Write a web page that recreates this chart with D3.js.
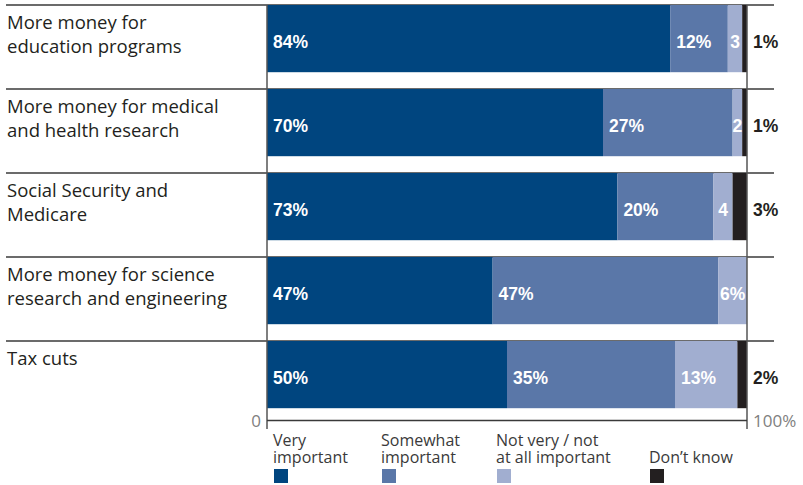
<!DOCTYPE html>
<html><head><meta charset="utf-8">
<script src="https://cdn.jsdelivr.net/npm/d3@7"></script>
<style>body{margin:0;background:#fff}svg{display:block}</style>
</head><body><svg id="c" width="803" height="485"></svg>
<script>
const categories = [
  ["More money for", "education programs"],
  ["More money for medical", "and health research"],
  ["Social Security and", "Medicare"],
  ["More money for science", "research and engineering"],
  ["Tax cuts"]
];
const seriesNames = ["Very\nimportant", "Somewhat\nimportant", "Not very / not\nat all important", "Don’t know"];
const colors = ["#00457f", "#5a77a8", "#a1aed0", "#231f20"];
const veryImportant = [84, 70, 73, 47, 50];
const somewhatImportant = [12, 27, 20, 47, 35];
const notImportant = [3, 2, 4, 6, 13];
const dontKnow = [1, 1, 3, 0, 2];
const insideLabels = [
  ["84%", "12%", "3"],
  ["70%", "27%", "2"],
  ["73%", "20%", "4"],
  ["47%", "47%", "6%"],
  ["50%", "35%", "13%"]
];
const outsideLabels = ["1%", "1%", "3%", "", "2%"];
const axisTicks = ["0", "100%"];

const svg = d3.select("#c");
const keys = categories.map((c, i) => i);
const x = d3.scaleLinear().domain([0, 100]).range([267, 747]);
const y = d3.scaleBand().domain(keys).range([5, 425]).paddingInner(0).paddingOuter(0);
const bh = y.step() * 0.8;
const series = [veryImportant, somewhatImportant, notImportant, dontKnow];
const rows = keys.map(i => {
  let acc = 0;
  return series.map((s, k) => {
    const seg = {row: i, k, x0: acc, x1: acc + s[i], label: k < 3 ? insideLabels[i][k] : ""};
    acc += s[i];
    return seg;
  });
});
const segs = rows.flat();

// separators
svg.append("g").selectAll("line").data(keys).join("line")
  .attr("x1", 6).attr("x2", 774)
  .attr("y1", d => y(d)).attr("y2", d => y(d))
  .attr("stroke", "#3a3a3a").attr("stroke-width", 1.5);

// bars
svg.append("g").selectAll("rect").data(segs.filter(d => d.x1 > d.x0)).join("rect")
  .attr("x", d => x(d.x0)).attr("width", d => x(d.x1) - x(d.x0))
  .attr("y", d => y(d.row)).attr("height", bh)
  .attr("fill", d => colors[d.k]);

// vertical lines
svg.append("g").selectAll("line").data([0, 100]).join("line")
  .attr("x1", d => x(d)).attr("x2", d => x(d))
  .attr("y1", 5).attr("y2", 429)
  .attr("stroke", "#555").attr("stroke-width", 1.5);
svg.append("line").attr("x1", x(0)).attr("x2", x(100)).attr("y1", 420.5).attr("y2", 420.5)
  .attr("stroke", "#3a3a3a").attr("stroke-width", 1.5);

// axis tick labels
svg.append("text").attr("x", x(0) - 6).attr("y", 427).attr("text-anchor", "end")
  .attr("font-family", "Open Sans").attr("font-size", 17).attr("fill", "#808080").text(axisTicks[0]);
svg.append("text").attr("x", x(100) + 6).attr("y", 427).attr("text-anchor", "start")
  .attr("font-family", "Open Sans").attr("font-size", 17).attr("fill", "#808080").text(axisTicks[1]);

// inside labels
svg.append("g").selectAll("text").data(segs.filter(d => d.label)).join("text")
  .attr("x", d => (x(d.x1) - x(d.x0)) < 30 ? (x(d.x0) + x(d.x1)) / 2 : x(d.x0) + 6)
  .attr("text-anchor", d => (x(d.x1) - x(d.x0)) < 30 ? "middle" : "start")
  .attr("y", d => y(d.row) + bh / 2 + 9)
  .attr("font-family", "Liberation Sans, Arial").attr("font-weight", "bold").attr("font-size", 17.5)
  .attr("fill", "#fff").text(d => d.label);

// outside labels
svg.append("g").selectAll("text").data(keys).join("text")
  .attr("x", x(100) + 6).attr("y", d => y(d) + bh / 2 + 9)
  .attr("font-family", "Liberation Sans, Arial").attr("font-weight", "bold").attr("font-size", 17.5)
  .attr("fill", "#231f20").text(d => outsideLabels[d]);

// category labels
const cl = svg.append("g").selectAll("text").data(keys).join("text")
  .attr("x", 7).attr("y", d => y(d) + 24)
  .attr("font-family", "Open Sans").attr("font-size", 18.5).attr("fill", "#231f20");
cl.selectAll("tspan").data(d => categories[d].map((t, j) => ({t, j, d}))).join("tspan")
  .attr("x", 7).attr("dy", d => d.j === 0 ? 0 : 24).text(d => d.t);

// legend
const legX = [274, 382, 497, 650];
const lg = svg.append("g").selectAll("g").data(seriesNames).join("g");
lg.append("rect").attr("x", (d, i) => legX[i]).attr("y", 469).attr("width", 14).attr("height", 14)
  .attr("fill", (d, i) => colors[i]);
lg.append("text").attr("font-family", "Open Sans").attr("font-size", 16).attr("fill", "#3a3a3a")
  .each(function(d, i) {
    const lines = d.split("\n");
    const t = d3.select(this);
    lines.forEach((l, j) => {
      t.append("tspan").attr("x", legX[i] - 1)
        .attr("y", 463 - (lines.length - 1 - j) * 17).text(l);
    });
  });
</script></body></html>
